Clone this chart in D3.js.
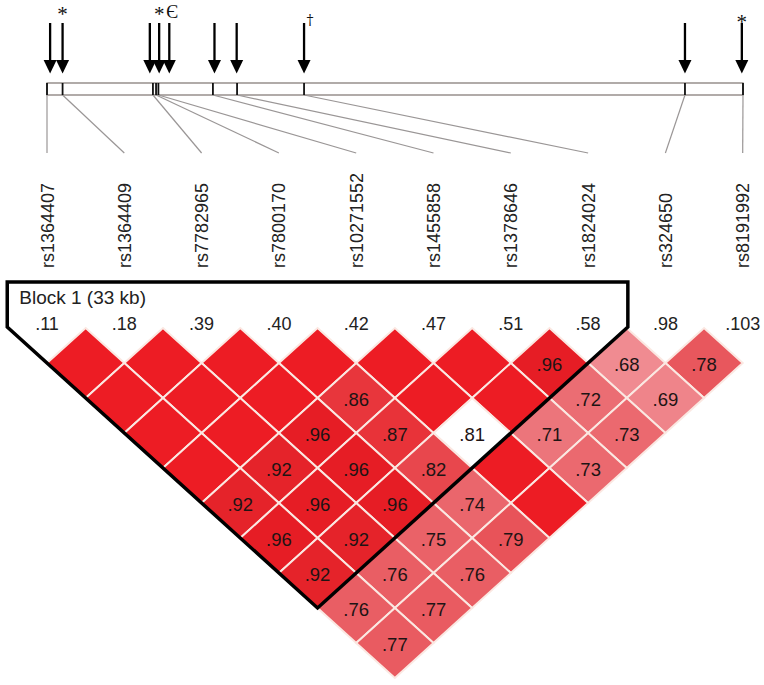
<!DOCTYPE html>
<html><head><meta charset="utf-8">
<script src="https://cdn.jsdelivr.net/npm/d3@7"></script>
<style>body{margin:0;background:#fff}svg{display:block}</style>
</head><body>
<svg id="c" width="764" height="685"></svg>
<script>
// ---- data ----
const snps = ["rs1364407","rs1364409","rs7782965","rs7800170","rs10271552","rs1455858","rs1378646","rs1824024","rs324650","rs8191992"];
const positionKb = [0, 2.0, 13.6, 14.0, 14.3, 21.3, 24.4, 33.0, 81.9, 89.35];
const arrowKb = [0.4, 2.0, 13.2, 14.4, 15.7, 21.5, 24.35, 33.0, 81.9, 89.2];
const annotations = ["", "*", "", "*", "Є", "", "", "†", "", "*"];
const markerLabels = [".11",".18",".39",".40",".42",".47",".51",".58",".98",".103"];
// LD values by SNP distance (row 1 = adjacent pairs); null = D'=1, no number shown
const ldByDistance = [
  [null,null,null,null,null,null,0.96,0.68,0.78],
  [null,null,null,0.86,null,null,0.72,0.69],
  [null,null,0.96,0.87,0.81,0.71,0.73],
  [null,0.92,0.96,0.82,null,0.73],
  [0.92,0.96,0.96,0.74,null],
  [0.96,0.92,0.75,0.79],
  [0.92,0.76,0.76],
  [0.76,0.77],
  [0.77]
];
const lowLodPairs = [[5,8]];   // 1-based SNP pairs drawn white
const blockSpan = [1, 8];      // 1-based SNPs in block 1
const blockLabel = "Block 1 (33 kb)";

// ---- drawing ----
const svg = d3.select("#c");
const FONT = "'Liberation Sans', Arial, sans-serif";
const SERIF = "'Liberation Serif', 'Times New Roman', serif";

const xSnp = d3.scaleLinear().domain([0, snps.length - 1]).range([47, 742.7]);
const xGene = d3.scaleLinear().domain([0, d3.max(positionKb)]).range([47, 743]);
const yRow = d3.scaleLinear().domain([1, ldByDistance.length]).range([363, 643]);
const hw = (xSnp(1) - xSnp(0)) / 2;
const h = yRow(2) - yRow(1);

const color = d3.scaleLinear()
  .domain([0.68, 0.72, 0.78, 0.86, 0.92, 0.96])
  .range(["#f08b91", "#eb6d73", "#e8575d", "#e8363c", "#e5232a", "#e61d25"]);
const isLow = (i, j) => lowLodPairs.some(p => p[0] === i + 1 && p[1] === j + 1);

// gene bar
const barTop = 83, barBot = 95;
svg.append("rect").attr("x", xGene(0)).attr("y", barTop)
  .attr("width", xGene(d3.max(positionKb)) - xGene(0)).attr("height", barBot - barTop)
  .attr("fill", "#fff").attr("stroke", "#7d7470").attr("stroke-width", 1.2);

// connectors
svg.append("g").selectAll("line").data(snps).join("line")
  .attr("x1", (d, i) => xGene(positionKb[i])).attr("y1", barBot)
  .attr("x2", (d, i) => xSnp(i)).attr("y2", 153)
  .attr("stroke", "#9a9696").attr("stroke-width", 1.2);

// ticks in bar
svg.append("g").selectAll("line").data(positionKb).join("line")
  .attr("x1", d => xGene(d)).attr("x2", d => xGene(d))
  .attr("y1", barTop).attr("y2", barBot)
  .attr("stroke", "#111").attr("stroke-width", 1.8);

// arrows
const ag = svg.append("g");
ag.selectAll("line").data(arrowKb).join("line")
  .attr("x1", d => xGene(d)).attr("x2", d => xGene(d))
  .attr("y1", 23).attr("y2", 62)
  .attr("stroke", "#000").attr("stroke-width", 2.3);
ag.selectAll("path").data(arrowKb).join("path")
  .attr("d", d => { const x = xGene(d); return `M${x-6.5},60L${x+6.5},60L${x},73.5Z`; })
  .attr("fill", "#000");

// annotations
const annDx = {"*": 0, "Є": 3, "†": 6};
const annY = {"*": 21, "Є": 18, "†": 25};
svg.append("g").selectAll("text").data(annotations.map((a, i) => ({a, i})).filter(d => d.a))
  .join("text")
  .attr("x", d => xGene(arrowKb[d.i]) + annDx[d.a])
  .attr("y", d => d.i === snps.length - 1 ? 28.5 : annY[d.a])
  .attr("text-anchor", "middle")
  .attr("font-family", d => d.a === "†" ? "'DejaVu Serif', serif" : SERIF)
  .attr("font-size", d => d.a === "†" ? 14 : (d.a === "*" ? 21 : 18))
  .attr("fill", "#111")
  .text(d => d.a);

// SNP labels
svg.append("g").selectAll("text").data(snps).join("text")
  .attr("transform", (d, i) => `translate(${xSnp(i) + 6.5},268) rotate(-90)`)
  .attr("font-family", FONT).attr("font-size", 18).attr("fill", "#222")
  .text(d => d);

// LD cells
const cells = [];
ldByDistance.forEach((row, k) => {
  const dist = k + 1;
  row.forEach((v, i) => cells.push({i, j: i + dist, dist, v}));
});
const cg = svg.append("g");
cg.selectAll("path").data(cells).join("path")
  .attr("d", c => {
    const cx = (xSnp(c.i) + xSnp(c.j)) / 2, cy = yRow(c.dist);
    return `M${cx},${cy-h}L${cx+hw},${cy}L${cx},${cy+h}L${cx-hw},${cy}Z`;
  })
  .attr("fill", c => isLow(c.i, c.j) ? "#ffffff" : (c.v == null ? "#ed1c24" : color(c.v)))
  .attr("stroke", "#fbe8e2").attr("stroke-width", 2);
const fmt = v => d3.format(".2f")(v).replace(/^0/, "");
cg.selectAll("text").data(cells.filter(c => c.v != null)).join("text")
  .attr("x", c => (xSnp(c.i) + xSnp(c.j)) / 2)
  .attr("y", c => yRow(c.dist) + 1.5)
  .attr("dy", "0.35em")
  .attr("text-anchor", "middle")
  .attr("font-family", FONT).attr("font-size", 18.5).attr("fill", "#1e1414")
  .text(c => fmt(c.v));

// marker number labels
svg.append("g").selectAll("text").data(markerLabels).join("text")
  .attr("x", (d, i) => xSnp(i)).attr("y", 330)
  .attr("text-anchor", "middle")
  .attr("font-family", FONT).attr("font-size", 18).attr("fill", "#222")
  .text(d => d);

// block outline
const b0 = blockSpan[0] - 1, b1 = blockSpan[1] - 1;
const apexX = (xSnp(b0) + xSnp(b1)) / 2;
const apexY = yRow(b1 - b0) + h;
const cornerY = yRow(1) - h - 1;
const spread = (apexY - cornerY) * hw / h;
const topY = 282;
const pts = [[apexX - spread, topY], [apexX + spread, topY], [apexX + spread, cornerY],
             [apexX, apexY], [apexX - spread, cornerY]];
svg.append("path").attr("d", "M" + pts.map(p => p.join(",")).join("L") + "Z")
  .attr("fill", "none").attr("stroke", "#000").attr("stroke-width", 3.5)
  .attr("stroke-linejoin", "miter");
svg.append("text").attr("x", apexX - spread + 12).attr("y", 304)
  .attr("font-family", FONT).attr("font-size", 19).attr("fill", "#222")
  .text(blockLabel);
</script>
</body></html>
